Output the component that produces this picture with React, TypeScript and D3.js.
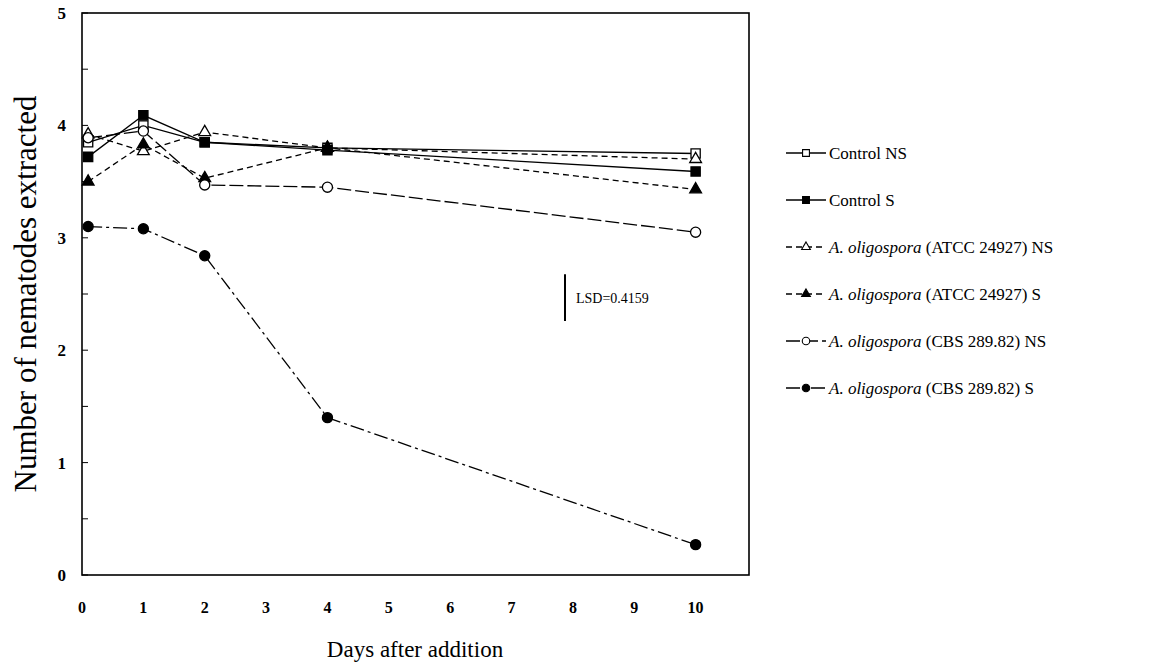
import * as d3 from 'd3'

// days the counts were taken (day 0 is plotted just off the axis, as in the original)
const days = [0.1, 1, 2, 4, 10]

const controlNS = [3.85, 4.0, 3.85, 3.8, 3.75]
const controlS = [3.72, 4.09, 3.85, 3.78, 3.59]
const atccNS = [3.92, 3.77, 3.94, 3.8, 3.7]
const atccS = [3.5, 3.83, 3.53, 3.8, 3.43]
const cbsNS = [3.89, 3.95, 3.47, 3.45, 3.05]
const cbsS = [3.1, 3.08, 2.84, 1.4, 0.27]

const xTicks = [0, 1, 2, 3, 4, 5, 6, 7, 8, 9, 10]
const yTicks = [0, 1, 2, 3, 4, 5]
const lsd = 0.4159
const lsdBase = 2.26

interface Series {
  name: string
  italic: string
  rest: string
  values: number[]
  symbol: d3.SymbolType
  filled: boolean
  dash: string
}

const series: Series[] = [
  { name: 'Control NS', italic: '', rest: 'Control NS', values: controlNS, symbol: d3.symbolSquare, filled: false, dash: '' },
  { name: 'Control S', italic: '', rest: 'Control S', values: controlS, symbol: d3.symbolSquare, filled: true, dash: '' },
  { name: 'atccNS', italic: 'A. oligospora', rest: ' (ATCC 24927) NS', values: atccNS, symbol: d3.symbolTriangle, filled: false, dash: '6,4' },
  { name: 'atccS', italic: 'A. oligospora', rest: ' (ATCC 24927) S', values: atccS, symbol: d3.symbolTriangle, filled: true, dash: '6,4' },
  { name: 'cbsNS', italic: 'A. oligospora', rest: ' (CBS 289.82) NS', values: cbsNS, symbol: d3.symbolCircle, filled: false, dash: '14,4' },
  { name: 'cbsS', italic: 'A. oligospora', rest: ' (CBS 289.82) S', values: cbsS, symbol: d3.symbolCircle, filled: true, dash: '14,4,3,4' },
]

const W = 1175
const H = 671
const margin = { left: 82, right: 749, top: 13, bottom: 575 }
const font = '"Liberation Serif", "Times New Roman", serif'

function symbolSize(s: d3.SymbolType, legend: boolean) {
  const k = legend ? 0.55 : 1
  if (s === d3.symbolSquare) return 85 * k
  if (s === d3.symbolTriangle) return 60 * k
  return 80 * k
}

export default function App() {
  const x = d3.scaleLinear().domain([0, 10.87]).range([margin.left, margin.right])
  const y = d3.scaleLinear().domain([0, 5]).range([margin.bottom, margin.top])
  const line = d3
    .line<number>()
    .x((_, i) => x(days[i]))
    .y((d) => y(d))

  const minorTicks = d3.range(0, 5.01, 0.5)

  return (
    <svg width={W} height={H} style={{ position: 'absolute', left: 0, top: 0, background: '#fff' }} fontFamily={font}>
      {/* plot box */}
      <rect
        x={margin.left}
        y={margin.top}
        width={margin.right - margin.left}
        height={margin.bottom - margin.top}
        fill="none"
        stroke="#000"
        strokeWidth={1.6}
      />
      {minorTicks.map((t) => (
        <line key={t} x1={margin.left} x2={margin.left + 6} y1={y(t)} y2={y(t)} stroke="#000" strokeWidth={1} />
      ))}
      {yTicks.map((t) => (
        <text key={t} x={margin.left - 16} y={y(t)} dy="0.35em" textAnchor="end" fontSize={17} fontWeight="bold">
          {t}
        </text>
      ))}
      {xTicks.map((t) => (
        <text key={t} x={x(t)} y={margin.bottom + 38} textAnchor="middle" fontSize={16} fontWeight="bold">
          {t}
        </text>
      ))}
      <text x={415} y={657} textAnchor="middle" fontSize={23}>
        Days after addition
      </text>
      <text transform={`translate(36,${(margin.top + margin.bottom) / 2}) rotate(-90)`} textAnchor="middle" fontSize={31}>
        Number of nematodes extracted
      </text>

      {/* LSD bar */}
      <line x1={565} x2={565} y1={y(lsdBase + lsd)} y2={y(lsdBase)} stroke="#000" strokeWidth={2} />
      <text x={576} y={(y(lsdBase + lsd) + y(lsdBase)) / 2} dy="0.35em" fontSize={14}>
        LSD=0.4159
      </text>

      {series.map((s) => (
        <g key={s.name}>
          <path d={line(s.values)!} fill="none" stroke="#000" strokeWidth={1.3} strokeDasharray={s.dash} />
          {s.values.map((v, i) => (
            <path
              key={i}
              transform={`translate(${x(days[i])},${y(v)})`}
              d={d3.symbol().type(s.symbol).size(symbolSize(s.symbol, false))()!}
              fill={s.filled ? '#000' : '#fff'}
              stroke="#000"
              strokeWidth={1.3}
            />
          ))}
        </g>
      ))}

      {/* legend */}
      {series.map((s, i) => {
        const ly = 153 + i * 47
        return (
          <g key={'lg' + s.name}>
            <line x1={786} x2={826} y1={ly} y2={ly} stroke="#000" strokeWidth={1.3} strokeDasharray={s.dash} />
            <path
              transform={`translate(806,${ly})`}
              d={d3.symbol().type(s.symbol).size(symbolSize(s.symbol, true))()!}
              fill={s.filled ? '#000' : '#fff'}
              stroke="#000"
              strokeWidth={1.1}
            />
            <text x={829} y={ly} dy="0.35em" fontSize={17}>
              {s.italic && <tspan fontStyle="italic">{s.italic}</tspan>}
              {s.rest}
            </text>
          </g>
        )
      })}
    </svg>
  )
}
